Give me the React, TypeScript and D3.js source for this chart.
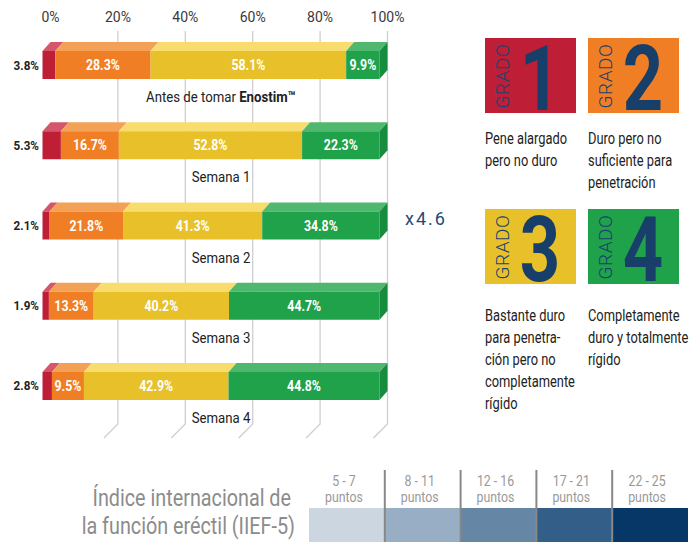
import React from "react";
import * as d3 from "d3";

const categories = ["Antes de tomar", "Semana 1", "Semana 2", "Semana 3", "Semana 4"];
const grado1 = [3.8, 5.3, 2.1, 1.9, 2.8];
const grado2 = [28.3, 16.7, 21.8, 13.3, 9.5];
const grado3 = [58.1, 52.8, 41.3, 40.2, 42.9];
const grado4 = [9.9, 22.3, 34.8, 44.7, 44.8];
const ticks = [0, 20, 40, 60, 80, 100];

const gradeKeys = ["g1", "g2", "g3", "g4"];
const gradeNums = ["1", "2", "3", "4"];
const gradeText = [
  ["Pene alargado", "pero no duro"],
  ["Duro pero no", "suficiente para", "penetración"],
  ["Bastante duro", "para penetra-", "ción pero no", "completamente", "rígido"],
  ["Completamente", "duro y totalmente", "rígido"],
];

const iiefRanges = ["5 - 7", "8 - 11", "12 - 16", "17 - 21", "22 - 25"];

const FRONT = ["#be1e36", "#f07e25", "#e8c12a", "#1fa24a"];
const TOP = ["#d5566b", "#f3a157", "#f8dd6e", "#50b86e"];
const SIDE = "#178c3e";
const IIEF_COLORS = ["#cbd6e1", "#98aec4", "#6586a4", "#335e87", "#063766"];
const NAVY = "#173f6a";

const DX = 8;
const DY = 9;

const rows = categories.map((c, i) => ({
  cat: c,
  g1: grado1[i],
  g2: grado2[i],
  g3: grado3[i],
  g4: grado4[i],
}));

// condensed-looking text: squeeze Roboto horizontally
const CText = ({ x, y, sx = 0.86, sy = 1, anchor = "start", children, ...rest }: any) => (
  <text transform={`translate(${x},${y}) scale(${sx},${sy})`} textAnchor={anchor} {...rest}>
    {children}
  </text>
);

export default function App() {
  const width = 699;
  const height = 542;

  const x = d3.scaleLinear().domain([0, 1]).range([42.5, 379.5]);
  const y = d3.scaleBand().domain(categories).range([51, 400]).paddingInner(0.651).paddingOuter(0);
  const bh = y.bandwidth();

  const series = d3
    .stack<any>()
    .keys(gradeKeys)
    .offset(d3.stackOffsetExpand)(rows);

  const iiefX = d3.scaleBand().domain(iiefRanges).range([309, 688]);

  const boxCol = [485, 588];
  const boxRow = [38, 209];
  const boxW = 91;
  const boxH = 75;
  const textBase = [144, 321];

  const font = "Roboto, 'Noto Sans', sans-serif";

  return (
    <svg
      width={width}
      height={height}
      style={{ position: "absolute", left: 0, top: 0, background: "#fff" }}
      fontFamily={font}
    >
      {/* grid */}
      {ticks.map((t) => {
        const gx = x(t / 100) + DX;
        return (
          <g key={t}>
            <text x={gx} y={22} textAnchor="middle" fontSize={14} fill="#3a3a3a">
              {t}%
            </text>
            {t > 0 && (
              <path
                d={`M${gx},31 L${gx},424 L${gx - 14},438`}
                fill="none"
                stroke="#cfcfcf"
                strokeWidth={1.3}
              />
            )}
          </g>
        );
      })}

      {/* bars */}
      {series.map((s, si) => (
        <g key={s.key}>
          {s.map((d, i) => {
            const cat = categories[i];
            const y0 = y(cat) as number;
            const x0 = x(d[0]);
            const x1 = x(d[1]);
            const val = (d.data as any)[s.key];
            return (
              <g key={cat}>
                <path
                  d={`M${x0},${y0} L${x0 + DX},${y0 - DY} L${x1 + DX},${y0 - DY} L${x1},${y0} Z`}
                  fill={TOP[si]}
                />
                <rect x={x0} y={y0} width={x1 - x0} height={bh} fill={FRONT[si]} />
                {si === series.length - 1 && (
                  <path
                    d={`M${x1},${y0} L${x1 + DX},${y0 - DY} L${x1 + DX},${y0 + bh - DY} L${x1},${y0 + bh} Z`}
                    fill={SIDE}
                  />
                )}
                {si === 0 ? (
                  <CText x={39} y={y0 + bh / 2 + 4.5} anchor="end" sx={0.9} fontSize={13} fontWeight={700} fill="#222">
                    {val}%
                  </CText>
                ) : (
                  <CText
                    x={(x0 + x1) / 2}
                    y={y0 + bh / 2 + 5}
                    anchor="middle"
                    sx={0.88}
                    fontSize={14}
                    fontWeight={700}
                    fill="#fff"
                  >
                    {val}%
                  </CText>
                )}
              </g>
            );
          })}
        </g>
      ))}

      {/* category labels */}
      {categories.map((c, i) => {
        const y0 = (y(c) as number) + bh + 23;
        return (
          <CText key={c} x={221} y={y0} anchor="middle" sx={0.88} fontSize={15} fill="#222">
            {i === 0 ? (
              <>
                {c + " "}
                <tspan fontWeight={700}>Enostim™</tspan>
              </>
            ) : (
              c
            )}
          </CText>
        );
      })}

      <text x={405} y={225} fontSize={18} fill="#1f4a7a" letterSpacing={2}>
        x4.6
      </text>

      {/* grade boxes */}
      {gradeNums.map((n, i) => {
        const bx = boxCol[i % 2];
        const by = boxRow[Math.floor(i / 2)];
        const base = textBase[Math.floor(i / 2)];
        return (
          <g key={n}>
            <rect x={bx} y={by} width={boxW} height={boxH} fill={FRONT[i]} />
            <text
              transform={`translate(${bx + 24},${by + 38}) rotate(-90)`}
              textAnchor="middle"
              fontSize={19}
              fontWeight={300}
              fill="#1b4170"
              letterSpacing={0.5}
            >
              GRADO
            </text>
            <CText x={bx + 55} y={by + 72} anchor="middle" sx={0.86} sy={1.1} fontSize={82} fontWeight={700} fill={NAVY}>
              {n}
            </CText>
            {gradeText[i].map((line, li) => (
              <CText key={li} x={bx} y={base + li * 22} sx={0.78} fontSize={16.5} fill="#222">
                {line}
              </CText>
            ))}
          </g>
        );
      })}

      {/* IIEF scale */}
      <CText x={291} y={506} anchor="end" sx={0.86} fontSize={23} fill="#8c8c8c">
        Índice internacional de
      </CText>
      <CText x={295} y={534} anchor="end" sx={0.86} fontSize={23} fill="#8c8c8c">
        la función eréctil (IIEF-5)
      </CText>
      {iiefRanges.map((r, i) => {
        const sx0 = iiefX(r) as number;
        const cx = sx0 + iiefX.bandwidth() / 2 - 3;
        return (
          <g key={r}>
            <rect x={sx0} y={508} width={iiefX.bandwidth()} height={34} fill={IIEF_COLORS[i]} />
            <CText x={cx} y={485.5} anchor="middle" sx={0.88} fontSize={14} fill="#999">
              {r}
            </CText>
            <CText x={cx} y={501.5} anchor="middle" sx={0.88} fontSize={14} fill="#999">
              puntos
            </CText>
            {i > 0 && <line x1={sx0} x2={sx0} y1={470} y2={542} stroke="#888" strokeWidth={2} />}
          </g>
        );
      })}
    </svg>
  );
}
